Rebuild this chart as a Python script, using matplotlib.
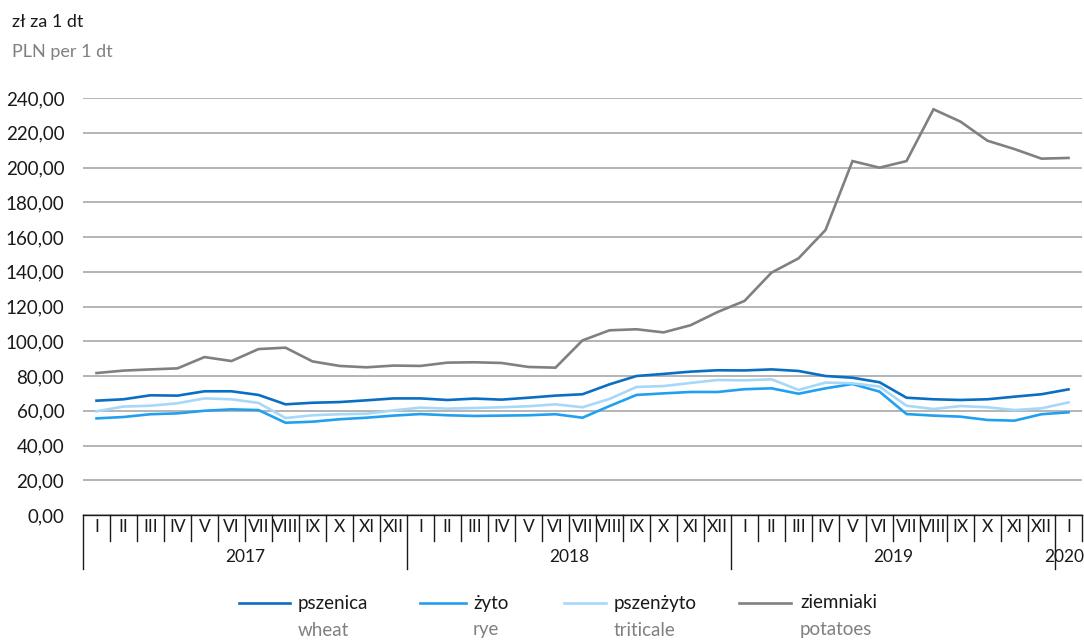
import matplotlib.pyplot as plt
import matplotlib as mpl
from matplotlib.lines import Line2D

mpl.rcParams.update({"font.family": ["Lato", "DejaVu Sans"], "font.size": 12})

MONTHS = ["I", "II", "III", "IV", "V", "VI", "VII", "VIII", "IX", "X", "XI", "XII"]
MONTH_LABELS = MONTHS * 3 + ["I"]
YEARS = ["2017", "2018", "2019", "2020"]
YEAR_LEN = [12, 12, 12, 1]

wheat = [65.8, 66.6, 68.9, 68.7, 71.2, 71.2, 69.1, 63.7, 64.6, 65.0, 66.0, 67.1,
         67.1, 66.2, 67.0, 66.4, 67.5, 68.7, 69.5, 75.2, 80.0, 81.2, 82.5, 83.3,
         83.2, 83.8, 82.9, 80.0, 79.0, 76.4, 67.5, 66.6, 66.2, 66.6, 68.1, 69.5, 72.3]
rye = [55.6, 56.4, 58.0, 58.5, 60.0, 60.8, 60.4, 53.1, 53.7, 55.1, 56.0, 57.2,
       58.1, 57.4, 57.0, 57.2, 57.4, 58.0, 56.0, 62.7, 69.1, 70.0, 70.8, 70.8,
       72.4, 72.9, 69.8, 72.9, 75.4, 71.0, 58.1, 57.2, 56.6, 54.7, 54.3, 58.0, 59.1]
triticale = [59.7, 62.4, 62.9, 64.3, 67.1, 66.6, 64.5, 55.8, 57.4, 58.0, 58.3, 60.2,
             61.8, 61.2, 61.6, 62.0, 62.6, 63.7, 62.0, 66.8, 73.7, 74.2, 76.0, 77.7,
             77.5, 78.1, 72.0, 76.2, 75.8, 73.9, 62.9, 61.0, 62.7, 62.0, 60.4, 61.4, 64.8]
potatoes = [81.7, 83.1, 83.8, 84.4, 90.9, 88.6, 95.5, 96.3, 88.4, 85.8, 85.0, 86.0,
            85.8, 87.7, 87.9, 87.5, 85.2, 84.8, 100.5, 106.3, 106.9, 105.1, 109.2, 116.8,
            123.2, 139.5, 147.7, 164.0, 203.7, 199.9, 203.7, 233.5, 226.4, 215.4, 210.6, 205.1, 205.5]

SERIES = [
    ("pszenica", "wheat", wheat, "#0a6fc2"),
    ("żyto", "rye", rye, "#22a0f0"),
    ("pszenżyto", "triticale", triticale, "#a8d8f8"),
    ("ziemniaki", "potatoes", potatoes, "#808080"),
]

W, H = 1084, 640
fig = plt.figure(figsize=(W / 100, H / 100), dpi=100)
ax = fig.add_axes([83 / W, (H - 515) / H, 999 / W, 417 / H])

x = list(range(len(MONTH_LABELS)))
for pl, en, vals, col in SERIES:
    ax.plot(x, vals, color=col, linewidth=1.9, solid_joinstyle="miter")

ax.set_xlim(-0.5, len(x) - 0.5)
ax.set_ylim(0, 240)
ax.set_yticks(range(0, 241, 20))
ax.set_yticklabels([f"{v},00" for v in range(0, 241, 20)], fontsize=13.5, color="#1a1a1a")
ax.tick_params(axis="y", length=0, pad=13.5)
ax.set_xticks([])
for s in ax.spines.values():
    s.set_visible(False)
ax.yaxis.grid(True, color="#a0a0a0", linewidth=1.1)
ax.set_axisbelow(True)

# category box under the plot
tr = ax.get_xaxis_transform()
px = 1 / 417
ax.plot([-0.5, len(x) - 0.5], [0, 0], transform=tr, color="#1a1a1a", lw=1, clip_on=False)
bounds = [-0.5]
for n in YEAR_LEN:
    bounds.append(bounds[-1] + n)
for i in range(len(x) + 1):
    xb = i - 0.5
    low = -54 * px if xb in bounds[:-1] else -26 * px
    ax.plot([xb, xb], [0, low], transform=tr, color="#1a1a1a", lw=1, clip_on=False)
for i, lab in enumerate(MONTH_LABELS):
    ax.text(i, -12.5 * px, lab, transform=tr, ha="center", va="center", fontsize=12.5, color="#1a1a1a")
for j, yr in enumerate(YEARS):
    cx = (bounds[j] + bounds[j + 1]) / 2
    if j == len(YEARS) - 1:
        cx -= 0.15  # keep the last year inside the figure
    ax.text(cx, -42 * px, yr, transform=tr, ha="center", va="center", fontsize=12.5, color="#1a1a1a")

# unit labels
fig.text(12 / W, 1 - 22 / H, "zł za 1 dt", ha="left", va="center", fontsize=13, color="#1a1a1a")
fig.text(12 / W, 1 - 52 / H, "PLN per 1 dt", ha="left", va="center", fontsize=13, color="#808080")

# legend
legend_pos = [(239, 290, 298), (420, 466, 473), (564, 606, 614), (739, 791, 800)]
for (pl, en, vals, col), (x0, x1, xt) in zip(SERIES, legend_pos):
    fig.add_artist(Line2D([x0 / W, x1 / W], [1 - 603 / H, 1 - 603 / H], color=col, lw=1.9,
                          transform=fig.transFigure))
    fig.text(xt / W, 1 - 603 / H, pl, ha="left", va="center", fontsize=13.5, color="#1a1a1a")
    fig.text(xt / W, 1 - 630 / H, en, ha="left", va="center", fontsize=13.5, color="#808080")

fig.savefig("out.png", dpi=100)
